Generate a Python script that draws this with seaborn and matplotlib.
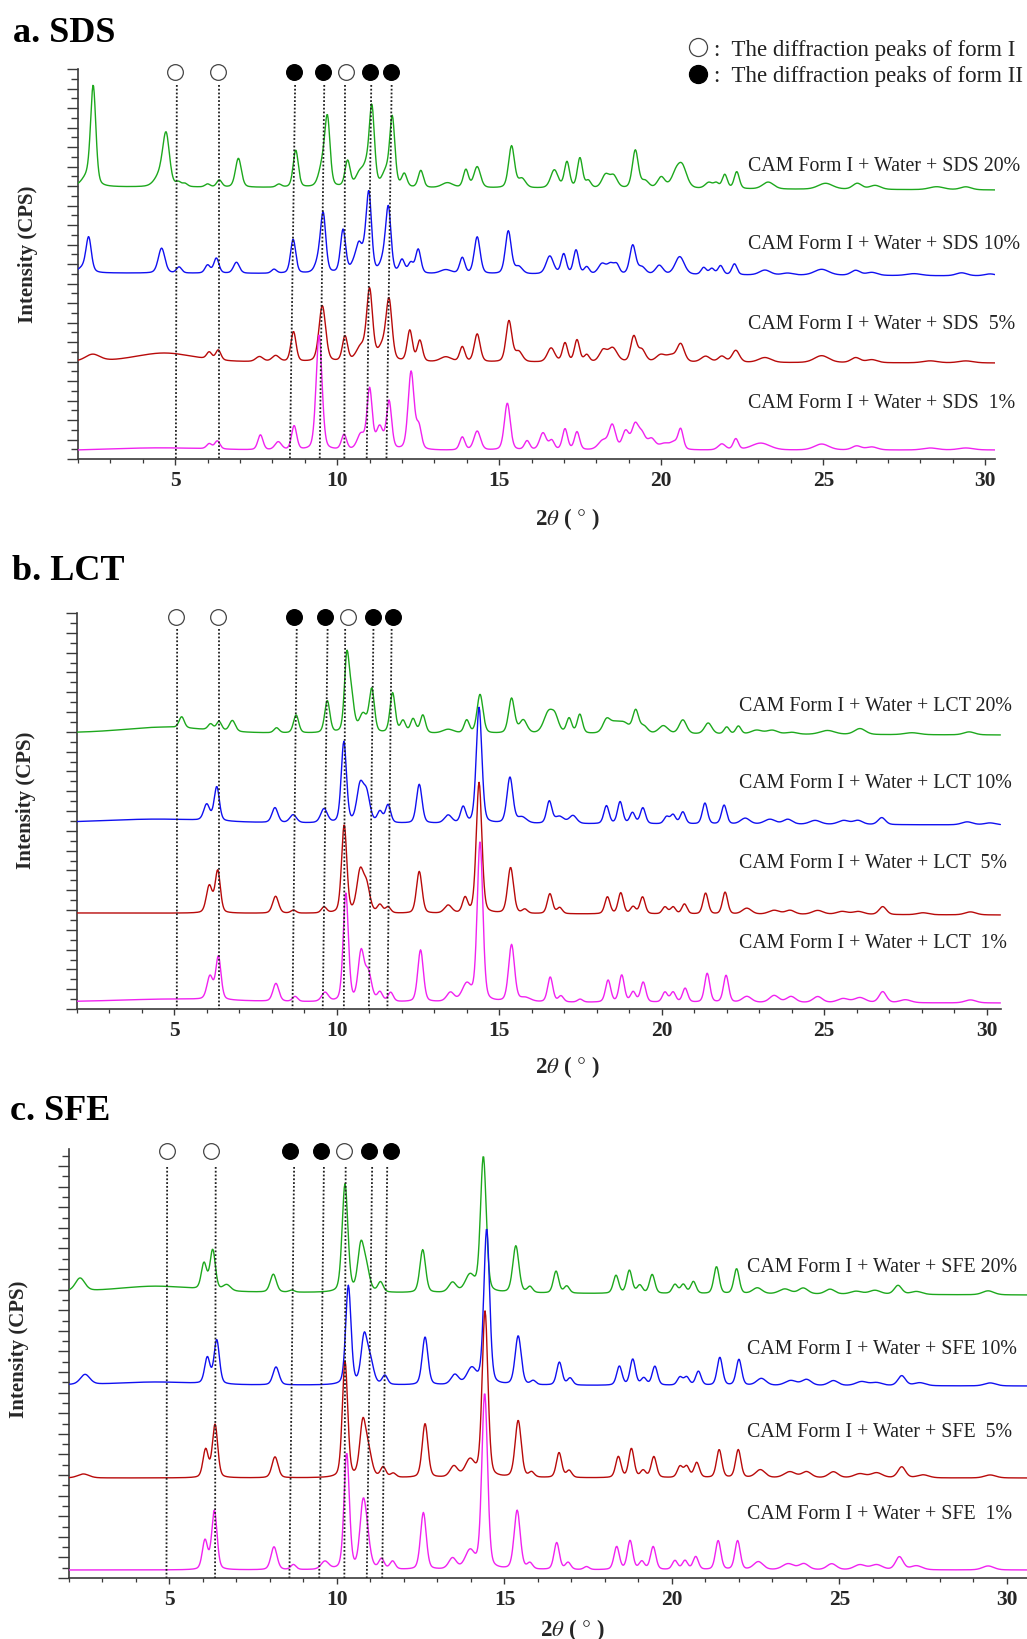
import numpy as np
import pandas as pd
import matplotlib
matplotlib.use("Agg")
import matplotlib.pyplot as plt
from matplotlib.ticker import MultipleLocator, NullFormatter
import seaborn as sns

# ------------------------------------------------------------------ data
# peaks: (2theta, intensity [a.u.], FWHM [deg])
SDS_20 = [(2.3, 10, .3), (2.47, 96, .14), (4.55, 12, .3), (4.72, 48, .18), (5.1, 4, .14), (5.3, 3, .14),
          (6.0, 3, .14), (6.36, 7, .14), (6.95, 29, .16), (8.2, 3, .14), (8.72, 37, .14), (9.55, 22, .2),
          (9.7, 63, .14), (10.32, 26, .14), (10.68, 12, .2), (10.9, 18, .2), (11.07, 76, .14), (11.5, 14, .2),
          (11.7, 68, .14), (12.07, 13, .14), (12.58, 17, .14), (13.4, 5, .3), (13.97, 18, .14), (14.32, 21, .18),
          (15.38, 42, .16), (15.7, 9, .2), (16.7, 18, .2), (17.09, 26, .14), (17.49, 30, .14), (17.75, 7, .14),
          (18.28, 13, .2), (18.53, 12, .2), (19.2, 38, .16), (19.5, 7, .2), (20.0, 11, .2), (20.45, 13, .25),
          (20.65, 20, .25), (21.47, 6, .2), (21.7, 5, .14), (21.96, 14, .14), (22.33, 17, .14), (23.3, 7, .3),
          (25.07, 6, .4), (26.05, 6, .25), (26.6, 4, .3), (28.5, 3, .4), (29.4, 3, .3)]
SDS_10 = [(2.2, 6, .3), (2.33, 32, .14), (4.58, 25, .18), (5.12, 6, .14), (6.0, 8, .14), (6.27, 15, .14),
          (6.89, 11, .16), (8.05, 4, .14), (8.64, 34, .14), (9.45, 14, .2), (9.57, 53, .14), (10.18, 43, .14),
          (10.55, 11, .2), (10.67, 18, .14), (10.85, 18, .2), (10.98, 72, .14), (11.45, 14, .2), (11.58, 60, .14),
          (12.0, 13, .14), (12.27, 10, .14), (12.5, 24, .14), (13.35, 4, .3), (13.86, 16, .14), (14.32, 37, .16),
          (15.28, 43, .16), (15.6, 7, .2), (16.56, 18, .2), (16.99, 20, .14), (17.37, 24, .14), (17.7, 7, .14),
          (18.17, 10, .2), (18.44, 10, .2), (18.63, 8, .14), (19.12, 29, .16), (19.4, 7, .2), (19.94, 9, .2),
          (20.57, 18, .25), (21.31, 7, .14), (21.56, 6, .14), (21.83, 9, .14), (22.26, 11, .14), (23.2, 5, .3),
          (23.9, 2, .3), (24.95, 6, .4), (26.0, 5, .25), (26.5, 3, .3), (27.8, 2, .4), (29.27, 3, .3), (30.15, 2, .3)]
SDS_5 = [(2.45, 7, .4), (4.66, 9, 1.6), (6.05, 7, .14), (6.33, 10, .14), (7.6, 5, .2), (8.1, 6, .2),
         (8.65, 30, .14), (9.54, 56, .18), (10.24, 25, .14), (10.73, 14, .25), (11.0, 70, .16), (11.4, 14, .25),
         (11.6, 58, .16), (12.24, 31, .14), (12.55, 21, .14), (13.35, 5, .3), (13.86, 15, .14), (14.32, 28, .16),
         (15.3, 41, .16), (15.6, 10, .2), (16.6, 14, .2), (17.03, 19, .14), (17.4, 22, .14), (17.7, 7, .14),
         (18.2, 11, .2), (18.5, 14, .25), (19.15, 25, .16), (19.4, 12, .2), (19.98, 7, .25), (20.3, 6, .25),
         (20.6, 18, .2), (21.37, 6, .25), (21.87, 6, .2), (22.3, 12, .2), (23.2, 5, .35), (24.95, 7, .4),
         (26.0, 5, .25), (26.5, 3, .3), (28.3, 2, .4), (29.4, 2, .4)]
SDS_1 = [(4.5, 3, 3.0), (6.05, 5, .14), (6.3, 8, .14), (7.63, 15, .14), (8.18, 8, .18), (8.67, 24, .14),
         (9.44, 115, .16), (10.21, 15, .14), (10.73, 15, .2), (11.0, 60, .14), (11.31, 22, .18), (11.6, 48, .14),
         (12.28, 78, .16), (12.52, 22, .14), (13.86, 13, .14), (14.32, 19, .18), (15.25, 47, .16), (15.86, 9, .14),
         (16.35, 17, .18), (16.62, 9, .14), (17.03, 21, .14), (17.4, 18, .14), (18.2, 9, .25), (18.49, 24, .18),
         (18.9, 18, .18), (19.19, 23, .18), (19.4, 15, .2), (19.7, 10, .2), (20.1, 6, .3), (20.4, 6, .2),
         (20.6, 20, .14), (21.87, 6, .2), (22.3, 11, .14), (23.07, 7, .5), (24.95, 6, .4), (26.03, 4, .25),
         (26.5, 3, .3), (28.3, 2, .4), (29.4, 2, .4)]

LCT_20 = [(4.7, 6, 2.2), (5.23, 11, .14), (6.12, 6, .14), (6.38, 9, .14), (6.79, 11, .16), (8.15, 5, .14),
          (8.75, 18, .14), (9.71, 32, .14), (10.31, 72, .13), (10.45, 33, .15), (10.81, 18, .2), (11.08, 43, .14),
          (11.72, 40, .14), (12.04, 12, .14), (12.35, 14, .14), (12.65, 18, .14), (13.43, 4, .3), (14.0, 13, .14),
          (14.41, 39, .16), (15.38, 35, .16), (15.74, 13, .2), (16.51, 20, .25), (16.72, 14, .2), (17.15, 15, .14),
          (17.48, 19, .14), (18.3, 12, .2), (18.55, 9, .3), (18.85, 9, .3), (19.2, 22, .16), (19.45, 7, .2),
          (20.05, 8, .25), (20.65, 14, .2), (21.43, 11, .2), (22.0, 7, .14), (22.36, 8, .14), (22.92, 4, .3),
          (23.4, 4, .3), (24.0, 2, .3), (25.1, 4, .4), (26.1, 6, .3), (27.7, 2, .4), (29.46, 3, .3)]
LCT_10 = [(4.5, 4, 3.0), (6.0, 16, .16), (6.31, 34, .14), (8.1, 15, .16), (8.66, 8, .18), (9.61, 14, .18),
          (10.22, 81, .14), (10.72, 36, .18), (10.92, 28, .18), (11.33, 11, .14), (11.58, 18, .14), (12.54, 39, .15),
          (13.43, 8, .2), (13.89, 16, .14), (14.38, 116, .15), (15.33, 46, .16), (15.7, 6, .25), (16.54, 22, .14),
          (16.85, 7, .25), (17.27, 8, .2), (18.3, 18, .14), (18.72, 22, .14), (19.1, 11, .14), (19.42, 16, .14),
          (20.15, 7, .14), (20.35, 9, .14), (20.65, 12, .14), (21.33, 21, .14), (21.92, 19, .14), (22.57, 6, .25),
          (23.33, 5, .3), (23.88, 5, .25), (24.72, 4, .3), (25.6, 4, .3), (26.04, 4, .25), (26.77, 7, .2),
          (29.4, 3, .3), (30.1, 2, .3)]
LCT_5 = [(6.08, 27, .16), (6.34, 42, .14), (8.12, 17, .16), (8.67, 3, .14), (9.61, 6, .14), (10.23, 88, .14),
         (10.72, 40, .18), (10.92, 26, .18), (11.33, 8, .14), (11.58, 6, .14), (12.54, 42, .15), (13.43, 8, .2),
         (13.95, 15, .14), (14.38, 131, .15), (15.35, 46, .16), (15.79, 4, .14), (16.56, 20, .14), (16.86, 6, .14),
         (18.33, 17, .14), (18.74, 21, .14), (19.12, 7, .14), (19.41, 17, .14), (20.1, 7, .14), (20.35, 7, .14),
         (20.7, 10, .14), (21.35, 21, .14), (21.95, 22, .14), (22.62, 6, .25), (23.46, 4, .3), (23.95, 4, .25),
         (24.8, 4, .3), (25.55, 3, .3), (26.05, 3, .3), (26.8, 8, .2), (28.04, 2, .3), (29.5, 3, .3)]
LCT_1 = [(5.0, 3, 3.0), (6.1, 23, .16), (6.36, 43, .14), (8.13, 18, .16), (8.72, 5, .14), (9.64, 9, .18),
         (10.28, 108, .14), (10.75, 48, .16), (10.97, 28, .18), (11.33, 9, .14), (11.66, 9, .14), (12.58, 52, .15),
         (13.5, 9, .2), (14.0, 17, .25), (14.41, 160, .15), (15.38, 57, .16), (15.8, 4, .3), (16.57, 25, .14),
         (16.9, 6, .14), (17.49, 3, .14), (18.35, 22, .14), (18.77, 27, .14), (19.12, 10, .14), (19.43, 20, .14),
         (20.1, 10, .14), (20.35, 10, .14), (20.72, 14, .14), (21.4, 29, .14), (21.98, 27, .14), (22.62, 6, .25),
         (23.46, 7, .25), (23.98, 6, .25), (24.8, 6, .25), (25.58, 4, .3), (26.1, 5, .3), (26.8, 11, .2),
         (27.5, 3, .3), (29.5, 3, .3)]

SFE_20 = [(2.33, 13, .25), (4.6, 6, 2.0), (6.03, 26, .14), (6.29, 40, .14), (6.71, 6, .2), (8.1, 18, .16),
          (8.65, 2, .14), (10.24, 108, .15), (10.71, 43, .16), (10.87, 23, .18), (11.3, 10, .14), (12.56, 43, .15),
          (13.45, 10, .2), (13.97, 17, .25), (14.37, 136, .15), (15.34, 47, .16), (15.76, 6, .14), (16.54, 22, .14),
          (16.86, 7, .14), (18.33, 18, .14), (18.73, 23, .14), (19.04, 8, .14), (19.41, 19, .14), (20.09, 9, .14),
          (20.34, 9, .14), (20.64, 12, .14), (21.33, 27, .14), (21.93, 25, .14), (22.55, 6, .25), (23.37, 5, .3),
          (23.92, 6, .25), (24.72, 5, .25), (25.5, 3, .3), (26.06, 4, .3), (26.75, 9, .2), (27.3, 3, .3),
          (29.44, 4, .3)]
SFE_10 = [(2.48, 10, .25), (4.6, 3, 2.0), (6.13, 26, .14), (6.41, 44, .14), (8.18, 18, .16), (10.34, 99, .14),
          (10.81, 46, .16), (10.99, 23, .18), (11.43, 9, .14), (12.63, 48, .15), (13.52, 10, .2), (14.02, 16, .25),
          (14.47, 156, .15), (15.41, 49, .16), (15.86, 4, .14), (16.64, 23, .14), (16.96, 7, .14), (18.43, 19, .14),
          (18.83, 26, .14), (19.16, 7, .14), (19.49, 19, .14), (20.24, 8, .14), (20.44, 8, .14), (20.79, 14, .14),
          (21.43, 28, .14), (22.0, 26, .14), (22.67, 7, .25), (23.55, 5, .3), (24.02, 6, .25), (24.82, 5, .25),
          (25.66, 4, .3), (26.11, 3, .3), (26.86, 10, .2), (27.4, 3, .3), (29.5, 3, .3)]
SFE_5 = [(2.43, 4, .3), (6.08, 28, .14), (6.36, 53, .14), (8.15, 21, .16), (10.24, 116, .14), (10.77, 52, .16),
         (10.94, 24, .18), (11.38, 10, .14), (11.68, 4, .14), (12.63, 54, .15), (13.49, 11, .2), (13.97, 17, .25),
         (14.42, 166, .15), (15.41, 57, .16), (15.81, 5, .14), (16.63, 25, .14), (16.93, 7, .14), (18.4, 21, .14),
         (18.79, 29, .14), (19.14, 7, .14), (19.46, 21, .14), (20.24, 11, .14), (20.44, 11, .14), (20.74, 15, .14),
         (21.41, 28, .14), (21.98, 28, .14), (22.64, 8, .25), (23.52, 6, .3), (24.02, 6, .25), (24.82, 6, .25),
         (25.61, 4, .3), (26.11, 5, .3), (26.86, 11, .2), (27.5, 3, .3), (29.5, 3, .3)]
SFE_1 = [(6.06, 29, .14), (6.34, 59, .14), (8.12, 23, .16), (8.7, 5, .14), (9.64, 8, .2), (10.29, 116, .14),
         (10.77, 55, .16), (10.89, 28, .18), (11.33, 10, .14), (11.66, 8, .14), (12.58, 57, .15), (13.45, 11, .2),
         (13.97, 18, .25), (14.41, 176, .15), (15.38, 59, .16), (15.76, 6, .14), (16.56, 27, .14), (16.9, 7, .14),
         (17.45, 3, .14), (18.35, 23, .14), (18.75, 29, .14), (19.1, 8, .14), (19.44, 23, .14), (20.09, 9, .14),
         (20.39, 9, .14), (20.71, 13, .14), (21.38, 29, .14), (21.96, 29, .14), (22.58, 8, .25), (23.47, 6, .3),
         (23.94, 6, .25), (24.77, 6, .25), (25.61, 5, .3), (26.11, 5, .3), (26.79, 13, .2), (27.3, 4, .3),
         (29.44, 4, .3)]

# baseline level (start, end) of each pattern in the stacked plot
BASE_SDS = [(272, 269), (186, 183), (97, 96), (8, 9)]
BASE_LCT = [(276, 274), (186, 184), (96, 94), (7, 6)]
BASE_SFE = [(286, 283), (193, 192), (100, 100), (8, 8)]

# reference peaks (form I open, form II filled) and guide lines (top / bottom 2theta)
MARK_I_A, MARK_II_A = [5.00, 6.33, 10.27], [8.67, 9.56, 11.01, 11.66]
MARK_I_B, MARK_II_B = [5.05, 6.36, 10.34], [8.70, 9.64, 11.11, 11.74]
MARK_I_C, MARK_II_C = [4.93, 6.24, 10.21], [8.60, 9.51, 10.96, 11.61]
GUIDE_TOP_A = [5.05, 6.34, 8.70, 9.60, 10.24, 11.05, 11.68]
GUIDE_BOT_A = [5.02, 6.34, 8.54, 9.46, 10.22, 10.91, 11.52]
GUIDE_TOP_B = [5.09, 6.39, 8.77, 9.72, 10.26, 11.13, 11.69]
GUIDE_BOT_B = [5.08, 6.39, 8.64, 9.57, 10.22, 10.99, 11.56]
GUIDE_TOP_C = [4.93, 6.38, 8.72, 9.61, 10.26, 11.05, 11.50]
GUIDE_BOT_C = [4.91, 6.36, 8.58, 9.47, 10.22, 10.89, 11.35]

LABELS_SDS = ["CAM Form I + Water + SDS 20%", "CAM Form I + Water + SDS 10%",
              "CAM Form I + Water + SDS  5%", "CAM Form I + Water + SDS  1%"]
LABELS_LCT = ["CAM Form I + Water + LCT 20%", "CAM Form I + Water + LCT 10%",
              "CAM Form I + Water + LCT  5%", "CAM Form I + Water + LCT  1%"]
LABELS_SFE = ["CAM Form I + Water + SFE 20%", "CAM Form I + Water + SFE 10%",
              "CAM Form I + Water + SFE  5%", "CAM Form I + Water + SFE  1%"]
TITLES = ["a. SDS", "b. LCT", "c. SFE"]
COLORS = ["#1da81d", "#1010f0", "#b80a0a", "#f022f0"]

# ------------------------------------------------------------------ style
W, H, DPI = 1027, 1640, 100
sns.set_theme(style="white")
plt.rcParams["font.family"] = ["Liberation Serif", "DejaVu Serif"]
plt.rcParams["mathtext.fontset"] = "stix"

fig = plt.figure(figsize=(W / DPI, H / DPI), dpi=DPI)
fig.patch.set_facecolor("white")

WIDTH_SCALE = 1.35   # instrument broadening applied to all read peak widths


def fx(x):
    return x / W


def fy(y):
    return 1 - y / H


def profile(x, peaks, base):
    y = base[0] + (base[1] - base[0]) * (x - x[0]) / (x[-1] - x[0])
    for p, h, w in peaks:
        d = ((x - p) / (w * WIDTH_SCALE)) ** 2
        y = y + h * (0.3 / (1 + 4 * d) + 0.7 * np.exp(-4 * np.log(2) * d))
    return y


panels = [
    dict(rect=(78, 995, 70, 460), xmax=30.3, step=9.75, series=[SDS_20, SDS_10, SDS_5, SDS_1], base=BASE_SDS,
         labels=LABELS_SDS, lab_x=748, lab_y=[171, 249, 329, 408], mI=MARK_I_A, mII=MARK_II_A,
         gt=GUIDE_TOP_A, gb=GUIDE_BOT_A, mk_y=73, g_y=86, title=(13, 42), ylab=(28, 254), xlab=(535, 525)),
    dict(rect=(76.7, 1000.7, 614, 1010), xmax=30.43, step=9.9, series=[LCT_20, LCT_10, LCT_5, LCT_1], base=BASE_LCT,
         labels=LABELS_LCT, lab_x=739, lab_y=[711, 788, 868, 948], mI=MARK_I_B, mII=MARK_II_B,
         gt=GUIDE_TOP_B, gb=GUIDE_BOT_B, mk_y=618, g_y=630, title=(12, 580), ylab=(26, 800), xlab=(535, 1073)),
    dict(rect=(69, 1027, 1150, 1579), xmax=30.6, step=10.3, series=[SFE_20, SFE_10, SFE_5, SFE_1], base=BASE_SFE,
         labels=LABELS_SFE, lab_x=747, lab_y=[1272, 1354, 1437, 1519], mI=MARK_I_C, mII=MARK_II_C,
         gt=GUIDE_TOP_C, gb=GUIDE_BOT_C, mk_y=1152, g_y=1168, title=(10, 1120), ylab=(19, 1349), xlab=(540, 1636)),
]

for k, P in enumerate(panels):
    l, r, t, b = P["rect"]
    ax = fig.add_axes([fx(l), fy(b), fx(r - l), (b - t) / H])
    ax.set_facecolor("none")
    hpx = b - t
    x = np.arange(2.0, P["xmax"] + 1e-9, 0.02)
    frames = []
    for i, (pk, bs) in enumerate(zip(P["series"], P["base"])):
        frames.append(pd.DataFrame({"2theta": x, "I": profile(x, pk, bs), "sample": P["labels"][i]}))
    df = pd.concat(frames, ignore_index=True)
    sns.lineplot(data=df, x="2theta", y="I", hue="sample", palette=dict(zip(P["labels"], COLORS)),
                 estimator=None, sort=False, legend=False, linewidth=1.0, ax=ax, zorder=3)
    ax.set_xlim(2, P["xmax"])
    ax.set_ylim(0, hpx)
    ax.set_xlabel("")
    ax.set_ylabel("")
    for s in ["top", "right"]:
        ax.spines[s].set_visible(False)
    for s in ["left", "bottom"]:
        ax.spines[s].set_color("#3a3a3a")
        ax.spines[s].set_linewidth(1.2)
    ax.xaxis.set_major_locator(MultipleLocator(5))
    ax.xaxis.set_minor_locator(MultipleLocator(1))
    ax.yaxis.set_major_locator(MultipleLocator(2 * P["step"]))
    ax.yaxis.set_minor_locator(MultipleLocator(P["step"]))
    ax.yaxis.set_major_formatter(NullFormatter())
    ax.tick_params(axis="x", which="major", direction="out", length=4, width=1.0, color="#3a3a3a",
                   pad=4, labelsize=15.5, bottom=True)
    ax.tick_params(axis="x", which="minor", direction="out", length=3, width=0.9, color="#3a3a3a", bottom=True)
    ax.tick_params(axis="y", which="major", direction="out", length=8, width=1.0, color="#3a3a3a", left=True)
    ax.tick_params(axis="y", which="minor", direction="out", length=5, width=1.0, color="#3a3a3a", left=True)
    for lab in ax.get_xticklabels():
        lab.set_fontweight("bold")
    ax.grid(False)

    trans = ax.get_xaxis_transform()
    gy = (b - P["g_y"]) / hpx
    for xt, xb in zip(P["gt"], P["gb"]):
        ax.plot([xt, xb], [gy, 0], transform=trans, color="#202020", lw=1.3, ls=(0, (1, 1.1)),
                zorder=5, clip_on=False)
    my = (b - P["mk_y"]) / hpx
    ax.plot(P["mI"], [my] * len(P["mI"]), "o", transform=trans, ms=11.3, mfc="white", mec="#444444",
            mew=0.9, clip_on=False, zorder=6)
    ax.plot(P["mII"], [my] * len(P["mII"]), "o", transform=trans, ms=11.3, mfc="black", mec="black",
            mew=0.9, clip_on=False, zorder=6)

    for lab, yb in zip(P["labels"], P["lab_y"]):
        fig.text(fx(P["lab_x"]), fy(yb), lab, fontsize=14.3, color="#222222", ha="left", va="baseline")
    fig.text(fx(P["title"][0]), fy(P["title"][1]), TITLES[k], fontsize=26, fontweight="bold",
             ha="left", va="baseline", color="black")
    fig.text(fx(P["ylab"][0]), fy(P["ylab"][1]), "Intensity (CPS)", rotation=90, fontsize=15,
             fontweight="bold", ha="center", va="center")
    fig.text(fx(P["xlab"][0]), fy(P["xlab"][1]), r"2$\mathit{\theta}$ ( $\degree$ )", fontsize=16.5,
             fontweight="bold", ha="left", va="baseline")

# legend of peak markers (top right)
fig.lines.append(plt.Line2D([fx(698)], [fy(48)], marker="o", ms=13, mfc="white", mec="#444444", mew=0.9,
                            transform=fig.transFigure, ls="none"))
fig.lines.append(plt.Line2D([fx(698)], [fy(75)], marker="o", ms=13, mfc="black", mec="black", mew=0.9,
                            transform=fig.transFigure, ls="none"))
fig.text(fx(714), fy(56), ":  The diffraction peaks of form I", fontsize=16.5, color="#222222", va="baseline")
fig.text(fx(714), fy(82), ":  The diffraction peaks of form II", fontsize=16.5, color="#222222", va="baseline")

fig.savefig("out.png", dpi=DPI, facecolor="white")
